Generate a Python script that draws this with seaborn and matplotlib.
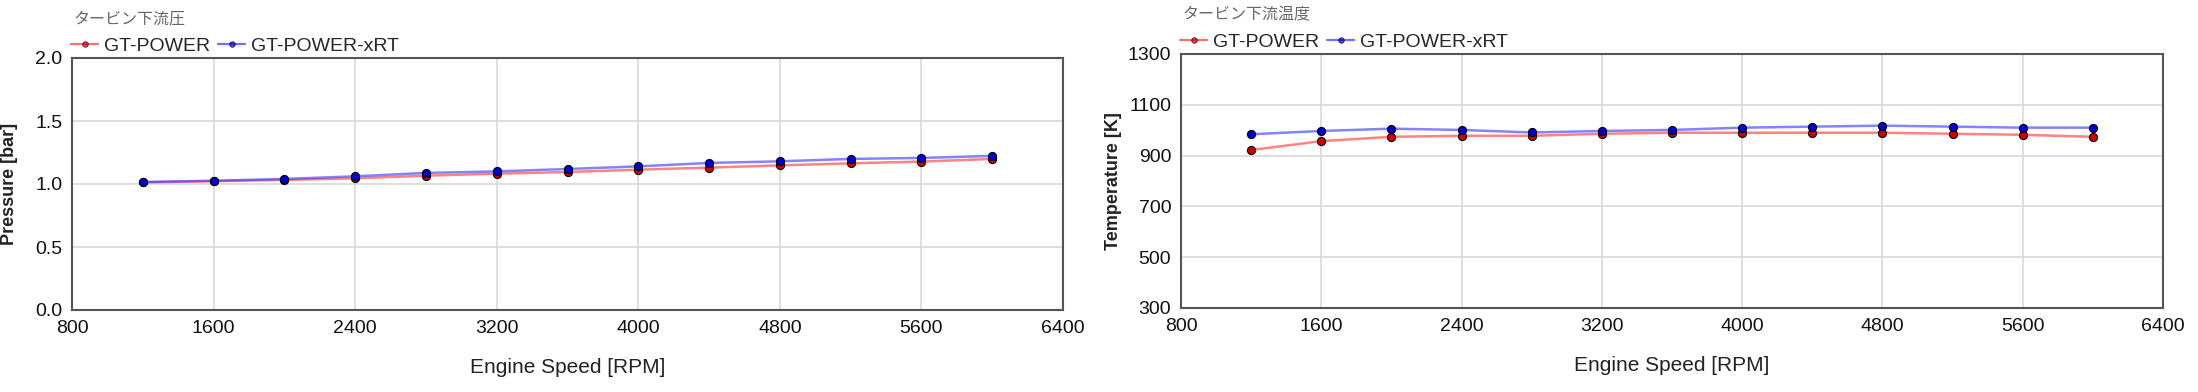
import pandas as pd
import matplotlib.pyplot as plt
import seaborn as sns

# データ
rpm = [1200, 1600, 2000, 2400, 2800, 3200, 3600, 4000, 4400, 4800, 5200, 5600, 6000]
p_gt = [1.013, 1.022, 1.032, 1.045, 1.066, 1.082, 1.095, 1.114, 1.130, 1.148, 1.164, 1.178, 1.199]
p_xrt = [1.016, 1.026, 1.040, 1.061, 1.088, 1.100, 1.119, 1.140, 1.167, 1.180, 1.199, 1.207, 1.223]
t_gt = [922, 957, 974, 978, 978, 986, 990, 990, 990, 990, 986, 982, 974]
t_xrt = [984, 997, 1006, 1001, 991, 997, 1001, 1010, 1014, 1018, 1014, 1010, 1010]
series_names = ["GT-POWER", "GT-POWER-xRT"]
xticks = [800, 1600, 2400, 3200, 4000, 4800, 5600, 6400]

sns.set_style("white")
plt.rcParams['font.family'] = ['Liberation Sans', 'Noto Sans CJK JP', 'DejaVu Sans']

fig = plt.figure(figsize=(21.98, 3.92), dpi=100)
W, H = 2198, 392
ax1 = fig.add_axes([72 / W, 1 - 310 / H, (1063 - 72) / W, (310 - 58) / H])
ax2 = fig.add_axes([1181 / W, 1 - 308 / H, (2163 - 1181) / W, (308 - 54) / H])

palette = {"GT-POWER": "#ff3030", "GT-POWER-xRT": "#3030ff"}
mk = {"GT-POWER": "#d00000", "GT-POWER-xRT": "#0000d0"}


def draw(ax, y1, y2, ylim, yticks, ylabel, title, fmt, ylab_x):
    df = pd.DataFrame({
        "rpm": rpm + rpm,
        "val": y1 + y2,
        "src": [series_names[0]] * len(rpm) + [series_names[1]] * len(rpm),
    })
    sns.lineplot(data=df, x="rpm", y="val", hue="src", palette=palette, ax=ax,
                 linewidth=1.8, alpha=0.6, legend=False)
    for name in series_names:
        d = df[df["src"] == name]
        sns.scatterplot(data=d, x="rpm", y="val", ax=ax, color=mk[name],
                        edgecolor="black", linewidth=0.8, s=34, zorder=5, legend=False)
    ax.set_xlim(800, 6400)
    ax.set_ylim(*ylim)
    ax.set_xticks(xticks)
    ax.set_yticks(yticks)
    ax.set_yticklabels([fmt.format(v) for v in yticks])
    ax.grid(True, color="#d8d8d8", linewidth=1.2)
    for s in ax.spines.values():
        s.set_color("#555555")
        s.set_linewidth(1.5)
    ax.tick_params(axis="both", labelsize=14, colors="#111111", length=4, direction="in")
    ax.tick_params(axis="x", pad=7)
    ax.tick_params(axis="y", pad=7)
    ax.set_xlabel("Engine Speed [RPM]", fontsize=15, color="#222222")
    ax.xaxis.set_label_coords(0.5, -0.19)
    ax.set_ylabel(ylabel, fontsize=13, color="#222222", fontweight="bold")
    ax.yaxis.set_label_coords(ylab_x, 0.5)
    ax.text(0.002, 1.155, title, transform=ax.transAxes, fontsize=11.5, color="#666666",
            family=['Noto Sans CJK JP', 'DejaVu Sans'], va="center", ha="left")
    handles = [plt.Line2D([], [], color=palette[n], alpha=0.7, linewidth=1.6, marker="o",
                          markersize=4, markerfacecolor=mk[n], markeredgecolor="black",
                          markeredgewidth=0.6) for n in series_names]
    ax.legend(handles, series_names, loc="lower left", bbox_to_anchor=(-0.001, 1.012), ncol=2,
              frameon=False, fontsize=14, handlelength=1.4, handletextpad=0.3,
              columnspacing=0.4, borderaxespad=0, borderpad=0.0)


draw(ax1, p_gt, p_xrt, (0, 2.0), [0.0, 0.5, 1.0, 1.5, 2.0], "Pressure [bar]", "タービン下流圧",
     "{:.1f}", -0.054)
draw(ax2, t_gt, t_xrt, (300, 1300), [300, 500, 700, 900, 1100, 1300], "Temperature [K]",
     "タービン下流温度", "{:.0f}", -0.060)

fig.savefig("out.png", dpi=100, facecolor="white")
